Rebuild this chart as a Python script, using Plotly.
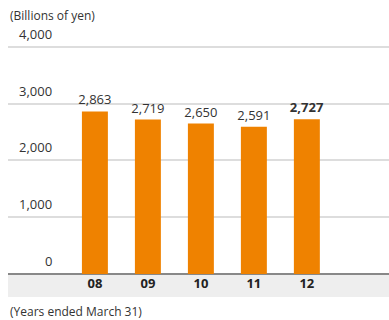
import plotly.graph_objects as go

years = ["08", "09", "10", "11", "12"]
values = [2863, 2719, 2650, 2591, 2727]
labels = ["2,863", "2,719", "2,650", "2,591", "<b>2,727</b>"]
y_ticks = [0, 1000, 2000, 3000, 4000]
y_tick_text = ["0", "1,000", "2,000", "3,000", "4,000"]

FONT = "Open Sans"
xs = list(range(len(years)))

fig = go.Figure()
fig.add_trace(go.Bar(
    x=xs, y=values, width=0.49, marker_color="#ef8200", marker_line_width=0,
    text=labels, textposition="outside", cliponaxis=False, constraintext="none",
    textfont=dict(family=FONT, size=13, color="#333333"),
))

# y tick labels above gridlines
for v, t in zip(y_ticks, y_tick_text):
    fig.add_annotation(x=0.12, xref="paper", y=v, yref="y", text=t, showarrow=False,
                       xanchor="right", yanchor="bottom", yshift=2,
                       font=dict(family=FONT, size=13, color="#333333"))

fig.add_shape(type="rect", xref="paper", yref="paper", x0=0, x1=1, y0=-0.1, y1=0,
              fillcolor="#eeeeee", line_width=0, layer="below")

fig.add_annotation(x=0, xref="paper", y=1.126, yref="paper", text="(Billions of yen)",
                   showarrow=False, xanchor="left", yanchor="middle",
                   font=dict(family=FONT, size=12, color="#333333"))
fig.add_annotation(x=0, xref="paper", y=-0.161, yref="paper", text="(Years ended March 31)",
                   showarrow=False, xanchor="left", yanchor="middle",
                   font=dict(family=FONT, size=12, color="#333333"))

fig.update_layout(
    width=389, height=320, margin=dict(l=8, r=0, t=44, b=46),
    paper_bgcolor="white", plot_bgcolor="white", showlegend=False,
    xaxis=dict(range=[-1.64, 5.55], tickmode="array", tickvals=xs,
               ticktext=["<b>%s</b>" % y for y in years], ticks="", showgrid=False,
               zeroline=False, showline=False,
               tickfont=dict(family=FONT, size=13, color="#222222")),
    yaxis=dict(range=[0, 4050], tickvals=y_ticks, showticklabels=False,
               showgrid=True, gridcolor="#dddddd", gridwidth=2,
               zeroline=True, zerolinecolor="#888888", zerolinewidth=2),
)

fig.write_html("out.html")
